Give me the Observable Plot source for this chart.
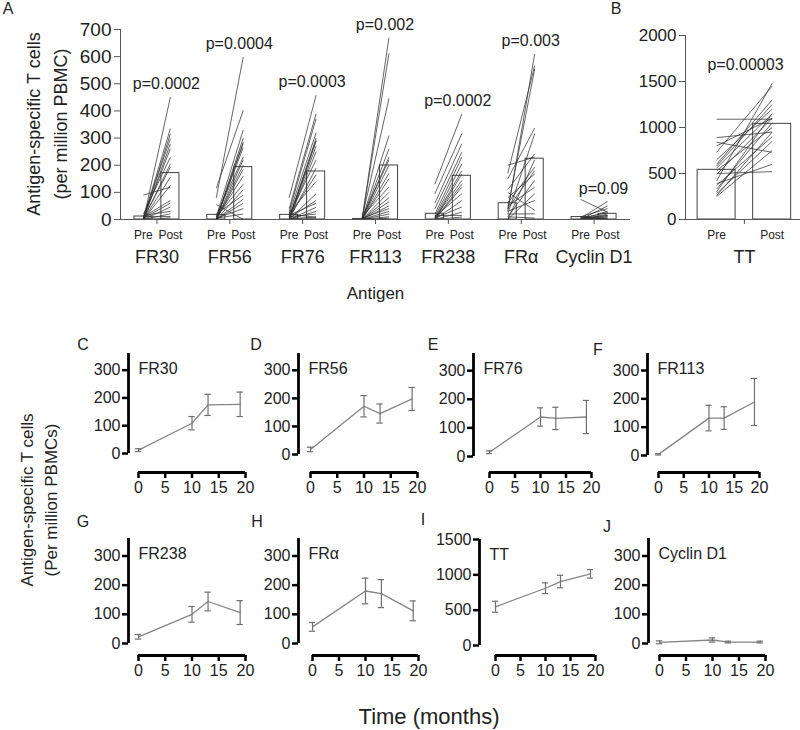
<!DOCTYPE html>
<html><head><meta charset="utf-8">
<script src="https://cdn.jsdelivr.net/npm/d3@7"></script>
<script src="https://cdn.jsdelivr.net/npm/@observablehq/plot@0.6"></script>
<style>
body{margin:0;background:#fff;}
#root{position:relative;width:800px;height:730px;overflow:hidden;font-family:"Liberation Sans",Arial,Helvetica,sans-serif;color:#222;}
.t{position:absolute;white-space:nowrap;text-align:center;transform:translate(-50%,-50%);}
.rot{position:absolute;white-space:nowrap;text-align:center;transform:translate(-50%,-50%) rotate(-90deg);}
</style></head><body><div id="root"></div>
<script>
// ---------- Panel A data ----------
const antigens = ["FR30","FR56","FR76","FR113","FR238","FRα","Cyclin D1"];
const preMeans = [11,17,17,2,21,60,9];
const postMeans = [171,193,177,199,161,224,21];
const pLabels = ["p=0.0002","p=0.0004","p=0.0003","p=0.002","p=0.0002","p=0.003","p=0.09"];
const yTicksA = [0,100,200,300,400,500,600,700];

const fr30Pre  = [0,5,0,10,0,5,20,0,5,0,90,0,10,5,0,15,0,10,0];
const fr30Post = [451,335,316,298,279,261,230,205,193,156,119,126,70,60,46,30,21,11,6];
const fr56Pre  = [80,115,0,10,0,0,5,0,15,0,55,0,5,10,0,20,0,0,5,5];
const fr56Post = [599,402,300,330,280,285,265,220,230,200,0,185,160,130,110,90,75,60,40,20];
const fr76Pre  = [80,40,30,0,10,20,0,5,0,15,0,10,25,0,5,0,10,20,0,5,0,15];
const fr76Post = [458,390,371,300,290,320,290,270,250,220,190,165,140,95,70,45,20,8,10,5,30,60];
const fr113Pre  = [0,0,5,0,0,0,5,0,0,0,10,0,0,0,0,5,0,0,0,0];
const fr113Post = [670,612,446,309,260,230,220,200,170,150,120,100,80,65,50,40,30,20,10,5];
const fr238Pre  = [130,95,60,40,20,10,0,5,0,10,0,5,0,15,0,5,0];
const fr238Post = [389,316,279,248,230,205,168,144,119,95,70,46,27,15,9,180,130];
const fraPre  = [30,200,40,150,20,110,60,80,10,50,0,30,100,20,0,40,10,170];
const fraPost = [610,230,555,337,316,242,193,168,144,119,95,70,34,21,220,180,5,567];
const cycPre  = [74,5,0,10,0,5,0,0,5,0,10,0,0,5,0];
const cycPost = [27,66,50,40,30,25,20,15,10,5,0,10,5,15,0];

// ---------- Panel B data ----------
const ttBars = [540,1040];
const ttP = "p=0.00003";
const yTicksB = [0,500,1000,1500,2000];
const ttPre  = [1090,890,840,800,730,650,600,580,560,530,500,490,420,390,370,330,300,280,260,250];
const ttPost = [1090,950,730,1100,1450,1200,1300,1250,1150,1000,520,1100,1480,600,900,1050,1150,850,950,750];

// ---------- Panels C-J data (mean, error) ----------
const months = [0,10,13,19];
const monthTicks = [0,5,10,15,20];
const fr30Mean = [12,109,175,177];   const fr30Err = [5,24,38,44];
const fr56Mean = [18,172,146,198];   const fr56Err = [8,38,34,41];
const fr76Mean = [15,138,133,138];   const fr76Err = [5,32,39,58];
const fr113Mean = [4,132,132,189];   const fr113Err = [2,45,40,83];
const fr238Mean = [23,100,144,106];  const fr238Err = [8,27,32,41];
const fraMean = [57,180,171,112];    const fraErr = [15,44,48,34];
const ttMean = [548,810,905,1014];   const ttErr = [78,76,88,60];
const cycMean = [4,12,5,5];          const cycErr = [5,7,3,3];

// ---------- helpers ----------
const FONT = '"Liberation Sans", Arial, Helvetica, sans-serif';
const plain = d => String(d);
const root = document.getElementById("root");
function put(el, left, top){ el.style.position="absolute"; el.style.left=left+"px"; el.style.top=top+"px"; root.appendChild(el); }
function txt(html, cx, cy, size, cls="t", lh=null){
  const d=document.createElement("div"); d.className=cls; d.innerHTML=html;
  d.style.left=cx+"px"; d.style.top=cy+"px"; d.style.fontSize=size+"px";
  if(lh) d.style.lineHeight=lh+"px";
  root.appendChild(d);
}
const baseStyle = {fontFamily: FONT, color: "#222", background: "transparent", overflow: "visible"};

// ---------- Panel A ----------
const off = 0.185, hw = 0.124;
const xDomA = [-0.5, 6.5];
const pairSets = [[fr30Pre,fr30Post],[fr56Pre,fr56Post],[fr76Pre,fr76Post],[fr113Pre,fr113Post],[fr238Pre,fr238Post],[fraPre,fraPost],[cycPre,cycPost]];
const barsA = antigens.flatMap((a,i)=>[{i,phase:"Pre",pos:i-off,v:preMeans[i]},{i,phase:"Post",pos:i+off,v:postMeans[i]}]);
const pairsA = pairSets.flatMap(([pre,post],i)=>pre.map((v,k)=>({i,pre:v,post:post[k]})));
const pA = antigens.map((a,i)=>({i,text:pLabels[i],top:d3.max(pairSets[i][1])}));

const plotA = Plot.plot({
  width:640, height:310, marginLeft:120, marginRight:10, marginTop:29, marginBottom:91,
  style: baseStyle,
  x:{domain:xDomA}, y:{domain:[0,700]},
  marks:[
    Plot.rectY(barsA,{x1:d=>d.pos-hw, x2:d=>d.pos+hw, y:"v", fill:"white", stroke:"#444", strokeWidth:1}),
    Plot.link(pairsA,{x1:d=>d.i-off, x2:d=>d.i+off, y1:"pre", y2:"post", stroke:"#333", strokeWidth:0.75}),
    Plot.ruleX([xDomA[0]],{stroke:"#555"}),
    Plot.ruleY([0],{stroke:"#555"}),
    Plot.axisY({ticks:yTicksA, tickFormat:plain, tickSize:6, tickPadding:3, fontSize:19, stroke:"#555", fill:"#222", label:null}),
    Plot.axisX({ticks:d3.range(antigens.length), tickFormat:i=>antigens[i], tickSize:5, tickPadding:26, fontSize:18, stroke:"#555", fill:"#222", label:null}),
    Plot.text(barsA,{x:"pos", y:()=>0, dy:16, text:"phase", fontSize:12}),
    Plot.text(pA,{x:d=>d.i+0.13, y:"top", dy:-13, text:"text", fontSize:16}),
    Plot.text(["Antigen"],{frameAnchor:"bottom", dy:79, fontSize:17})
  ]
});
put(plotA,0,0);

// ---------- Panel B ----------
const offB = 0.5, hwB = 0.342;
const xDomB = [-1.06, 1.01];
const barsB = [{phase:"Pre",pos:-offB,v:ttBars[0]},{phase:"Post",pos:offB,v:ttBars[1]}];
const pairsB = ttPre.map((v,k)=>({pre:v,post:ttPost[k]}));
const plotB = Plot.plot({
  width:170, height:310, marginLeft:55, marginRight:0, marginTop:35, marginBottom:91,
  style: baseStyle,
  x:{domain:xDomB}, y:{domain:[0,2000]},
  marks:[
    Plot.rectY(barsB,{x1:d=>d.pos-hwB, x2:d=>d.pos+hwB, y:"v", fill:"white", stroke:"#444", strokeWidth:1}),
    Plot.link(pairsB,{x1:()=>-offB, x2:()=>offB, y1:"pre", y2:"post", stroke:"#333", strokeWidth:0.75}),
    Plot.ruleX([xDomB[0]],{stroke:"#555"}),
    Plot.ruleY([0],{stroke:"#555"}),
    Plot.axisY({ticks:yTicksB, tickFormat:plain, tickSize:6, tickPadding:3, fontSize:17, stroke:"#555", fill:"#222", label:null}),
    Plot.axisX({ticks:[0], tickFormat:()=>"TT", tickSize:5, tickPadding:26, fontSize:18, stroke:"#555", fill:"#222", label:null}),
    Plot.text(barsB,{x:"pos", y:()=>0, dy:16, text:"phase", fontSize:12}),
    Plot.text([ttP],{x:()=>0.02, y:()=>d3.max(ttPost), dy:-18, fontSize:16})
  ]
});
put(plotB,630,0);

// ---------- Panels C-J ----------
const panels = [
  {letter:"C", lp:[83,345], title:"FR30", mean:fr30Mean, err:fr30Err, ymax:360, yt:[0,100,200,300], ax:128, x0:138, x20:245, top:353, y0:453, xa:472},
  {letter:"D", lp:[256,345], title:"FR56", mean:fr56Mean, err:fr56Err, ymax:360, yt:[0,100,200,300], ax:298, x0:310, x20:417, top:353, y0:454, xa:472},
  {letter:"E", lp:[433,345], title:"FR76", mean:fr76Mean, err:fr76Err, ymax:360, yt:[0,100,200,300], ax:473, x0:489, x20:591, top:353, y0:456, xa:472},
  {letter:"F", lp:[598,350], title:"FR113", mean:fr113Mean, err:fr113Err, ymax:360, yt:[0,100,200,300], ax:647, x0:658, x20:759, top:353, y0:455, xa:472},
  {letter:"G", lp:[83,522], title:"FR238", mean:fr238Mean, err:fr238Err, ymax:360, yt:[0,100,200,300], ax:128, x0:138, x20:245, top:538, y0:643, xa:655},
  {letter:"H", lp:[257,522], title:"FRα", mean:fraMean, err:fraErr, ymax:360, yt:[0,100,200,300], ax:298, x0:312, x20:418, top:538, y0:643, xa:655},
  {letter:"I", lp:[423,520], title:"TT", mean:ttMean, err:ttErr, ymax:1500, yt:[0,500,1000,1500], ax:479, x0:495, x20:595, top:539, y0:645, xa:655},
  {letter:"J", lp:[607,527], title:"Cyclin D1", mean:cycMean, err:cycErr, ymax:360, yt:[0,100,200,300], ax:648, x0:659, x20:765, top:538, y0:643, xa:655}
];
const capHalf = 0.6;
for (const p of panels) {
  const left = p.ax - 55, svgTop = p.top - 8;
  const insetL = p.x0 - p.ax, insetB = p.xa - p.y0;
  const series = months.map((t,k)=>({t, m:p.mean[k], lo:p.mean[k]-p.err[k], hi:p.mean[k]+p.err[k]}));
  const svg = Plot.plot({
    width: p.x20 + 18 - left, height: p.xa + 32 - svgTop,
    marginLeft:55, marginRight:18, marginTop:8, marginBottom:32,
    style: baseStyle,
    x:{domain:[0,20], insetLeft:insetL},
    y:{domain:[0,p.ymax], insetBottom:insetB},
    marks:[
      Plot.ruleX([0],{y1:()=>0, y2:()=>p.ymax, dx:-insetL, stroke:"#000", strokeWidth:2.8}),
      Plot.ruleY([0],{x1:()=>0, x2:()=>20, dy:insetB, stroke:"#000", strokeWidth:2.8}),
      Plot.axisY({ticks:p.yt, tickFormat:plain, tickSize:6, tickPadding:2, fontSize:16, stroke:"#000", strokeWidth:2.5, fill:"#222", label:null}),
      Plot.axisX({ticks:monthTicks, tickFormat:plain, tickSize:6, tickPadding:3, fontSize:16, stroke:"#000", strokeWidth:2.5, fill:"#222", label:null}),
      Plot.line(series,{x:"t", y:"m", stroke:"#858585", strokeWidth:1.3}),
      Plot.ruleX(series,{x:"t", y1:"lo", y2:"hi", stroke:"#707070", strokeWidth:1.2}),
      Plot.ruleY(series,{y:"lo", x1:d=>d.t-capHalf, x2:d=>d.t+capHalf, stroke:"#707070", strokeWidth:1.2}),
      Plot.ruleY(series,{y:"hi", x1:d=>d.t-capHalf, x2:d=>d.t+capHalf, stroke:"#707070", strokeWidth:1.2}),
      Plot.text([p.title],{frameAnchor:"top-left", dx:10, dy:15, textAnchor:"start", lineAnchor:"middle", fontSize:16})
    ]
  });
  put(svg, left, svgTop);
  txt(p.letter, p.lp[0], p.lp[1], 16);
}

// ---------- free text ----------
txt("A", 8, 9, 16);
txt("B", 616, 9, 16);
txt("Antigen-specific T cells<br>(per million PBMC)", 48, 124, 18, "rot", 27);
txt("Antigen-specific T cells<br>(Per million PBMCs)", 40, 500, 17, "rot", 24);
txt("Time (months)", 429, 717, 22);
</script></body></html>
